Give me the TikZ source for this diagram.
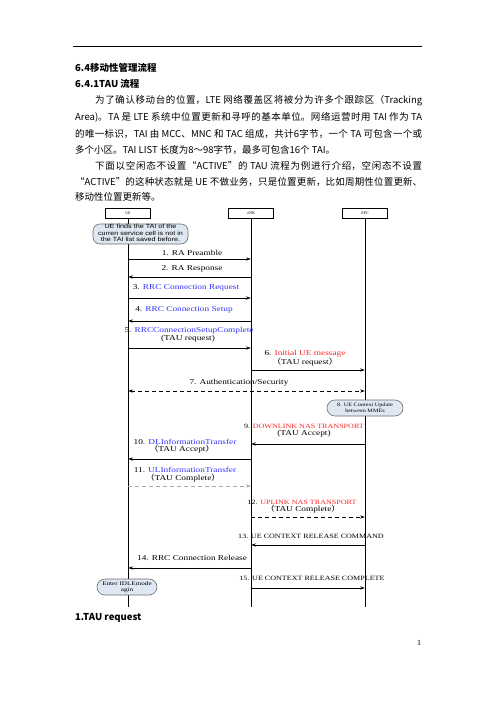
\documentclass[tikz,border=0pt]{standalone}
\usepackage{fontspec}
\usepackage{graphicx}
\newfontfamily\cjk{Noto Sans CJK SC}
\newfontfamily\dser{Liberation Serif}
\newfontfamily\dsans{Liberation Sans}
\usetikzlibrary{arrows.meta}
\XeTeXlinebreaklocale "zh"
\XeTeXlinebreakskip=0pt plus 2pt minus 0.4pt
\definecolor{msgblue}{RGB}{51,51,255}
\definecolor{msgred}{RGB}{255,40,40}
\definecolor{notefill}{RGB}{223,231,242}
\definecolor{notedraw}{RGB}{110,110,110}
\newcommand\xwide[2][1.24]{\scalebox{#1}[1]{#2}}
\newcommand\bluetxt[1]{\textcolor{msgblue}{#1}}
\newcommand\redtxt[1]{\textcolor{msgred}{#1}}
\tikzset{
  pagetext/.style={anchor=west, inner sep=0pt, font=\cjk\fontsize{9.5}{16}\selectfont},
  justline/.style={pagetext, text width=#1, align=justify},
  titletext/.style={anchor=west, inner sep=0pt, font=\cjk\bfseries\fontsize{9.5}{12}\selectfont},
  headbox/.style={draw, line width=0.7pt, minimum width=45pt, minimum height=10pt, inner sep=0pt, font=\dser\fontsize{4}{4}\selectfont},
  lifeline/.style={line width=0.8pt},
  note/.style={draw=notedraw, fill=notefill, line width=0.6pt, rounded corners=7pt, align=center, inner sep=0pt},
  msg/.style={line width=0.8pt, -{Stealth[length=5pt,width=3.2pt]}},
  msgboth/.style={line width=0.8pt, {Stealth[length=5pt,width=3.2pt]}-{Stealth[length=5pt,width=3.2pt]}},
  dashmsg/.style={dash pattern=on 4pt off 3pt},
  lbl/.style={inner sep=0pt, font=\dser\fontsize{7.5}{8}\selectfont},
  capslbl/.style={inner sep=0pt, font=\dser\fontsize{6.5}{7}\selectfont},
}
\begin{document}
\begin{tikzpicture}[x=1pt,y=-1pt]
\useasboundingbox[fill=white] (0,0) rectangle (496,702);
% page header rule
\draw[line width=0.8pt] (73,46) -- (422,46);
% titles and body text
\node[titletext] (t1) at (75,68) {6.4移动性管理流程};
\node[titletext] (t2) at (75,84) {6.4.1TAU 流程};
\node[justline=327pt] (p1) at (95,101) {\parfillskip=0pt\noindent 为了确认移动台的位置，LTE 网络覆盖区将被分为许多个跟踪区（Tracking\par};
\node[justline=347pt] (p2) at (75,117) {\parfillskip=0pt\noindent Area)。TA 是 LTE 系统中位置更新和寻呼的基本单位。网络运营时用 TAI 作为 TA\par};
\node[justline=347pt] (p3) at (75,134) {\parfillskip=0pt\noindent 的唯一标识，TAI 由 MCC、MNC 和 TAC 组成，共计6字节，一个 TA 可包含一个或\par};
\node[pagetext] (p4) at (75,150) {多个小区。TAI LIST 长度为8～98字节，最多可包含16个 TAI。};
\node[justline=327pt] (p5) at (95,166) {\parfillskip=0pt\noindent 下面以空闲态不设置“ACTIVE”的 TAU 流程为例进行介绍，空闲态不设置\par};
\node[justline=347pt] (p6) at (75,182) {\parfillskip=0pt\noindent “ACTIVE”的这种状态就是 UE 不做业务，只是位置更新，比如周期性位置更新、\par};
\node[pagetext] (p7) at (75,197) {移动性位置更新等。};
% lifeline heads
\node[headbox] (ueh) at (128,213) {UE};
\node[headbox] (enbh) at (251,213) {eNB};
\node[headbox] (epch) at (365,213) {EPC};
\coordinate (uebot) at (128,607);
\coordinate (enbbot) at (251,607);
\coordinate (epcbot) at (365,607);
\draw[lifeline] (ueh.south) -- (uebot);
\draw[lifeline] (enbh.south) -- (enbbot);
\draw[lifeline] (epch.south) -- (epcbot);
% notes
\node[note, minimum width=95pt, minimum height=20pt] (n1) at (140.5,234)
  {\xwide[1.2]{\dsans\fontsize{6}{6.3}\selectfont\begin{tabular}{@{}c@{}}UE finds the TAI of the\\curren service cell is not in\\the TAI list saved before.\end{tabular}}};
\node[note, rounded corners=8pt, minimum width=76pt, minimum height=16pt] (n8) at (365,408)
  {\xwide{\dser\fontsize{5}{6}\selectfont\begin{tabular}{@{}c@{}}8. UE Context Update\\between MMEs\end{tabular}}};
\node[note, rounded corners=8pt, minimum width=60pt, minimum height=16pt] (n15) at (127,587)
  {\xwide[1.3]{\dser\fontsize{5.5}{6}\selectfont\begin{tabular}{@{}c@{}}Enter IDLEmode\\agin\end{tabular}}};
% message end points
\foreach \n/\y in {1/259,2/277,3/298,4/321,5/348,6/370,7/391,9/444,10/459,11/486,12/517,13/545,14/568,15/588}{
  \coordinate (ue\n) at (128,\y);
  \coordinate (enb\n) at (251,\y);
  \coordinate (epc\n) at (365,\y);
}
\draw[msg] (ue1) -- (enb1);
\draw[msg] (enb2) -- (ue2);
\draw[msg] (ue3) -- (enb3);
\draw[msg] (enb4) -- (ue4);
\draw[msg] (ue5) -- (enb5);
\draw[msg] (enb6) -- (epc6);
\draw[msgboth, dashmsg] (ue7) -- (epc7);
\draw[msg] (epc9) -- (enb9);
\draw[msg] (enb10) -- (ue10);
\draw[msg, dashmsg, gray!70] (ue11) -- (enb11);
\draw[msg, dashmsg] (enb12) -- (epc12);
\draw[msg] (epc13) -- (enb13);
\draw[msg] (enb14) -- (ue14);
\draw[msg] (enb15) -- (epc15);
% labels
\node[lbl] (l1) at (192,253) {\xwide{1. RA Preamble}};
\node[lbl] (l2) at (192,269) {\xwide{2. RA Response}};
\node[lbl] (l3) at (186,288) {\xwide{3. \bluetxt{RRC Connection Request}}};
\node[lbl] (l4) at (184,310) {\xwide{4. \bluetxt{RRC Connection Setup}}};
\node[lbl] (l5a) at (189,331) {\xwide{5. \bluetxt{RRCConnectionSetupComplete}}};
\node[lbl] (l5b) at (188,338.5) {\xwide{(TAU request)}};
\node[lbl] (l6a) at (305,354) {\xwide{6. \redtxt{Initial UE message}}};
\node[lbl] (l6b) at (305,362) {\xwide{{\cjk （}TAU request{\cjk ）}}};
\node[lbl] (l7) at (239,383) {\xwide{7. Authentication/Security}};
\node[capslbl] (l9a) at (304,426.5) {\xwide{9. \redtxt{DOWNLINK NAS TRANSPORT}}};
\node[lbl] (l9b) at (304,433.5) {\xwide{(TAU Accept)}};
\node[lbl] (l10a) at (185,442) {\xwide{10. \bluetxt{DLInformationTransfer}}};
\node[lbl] (l10b) at (182,449) {\xwide{{\cjk （}TAU Accept{\cjk ）}}};
\node[lbl] (l11a) at (185,470) {\xwide{11. \bluetxt{ULInformationTransfer}}};
\node[lbl] (l11b) at (183,478) {\xwide{{\cjk （}TAU Complete{\cjk ）}}};
\node[capslbl] (l12a) at (302,502) {\xwide{12. \redtxt{UPLINK NAS TRANSPORT}}};
\node[lbl] (l12b) at (303,509) {\xwide{{\cjk （}TAU Complete{\cjk ）}}};
\node[capslbl] (l13) at (311,536) {\xwide{13. UE CONTEXT RELEASE COMMAND}};
\node[lbl] (l14) at (192,558) {\xwide{14. RRC Connection Release}};
\node[capslbl] (l15) at (312,578) {\xwide{15. UE CONTEXT RELEASE COMPLETE}};
% trailing heading and page number
\node[titletext] (t3) at (75,618) {1.TAU request};
\node[inner sep=0pt, font=\dser\fontsize{8}{9}\selectfont] (pg) at (419,643) {1};
\end{tikzpicture}
\end{document}
